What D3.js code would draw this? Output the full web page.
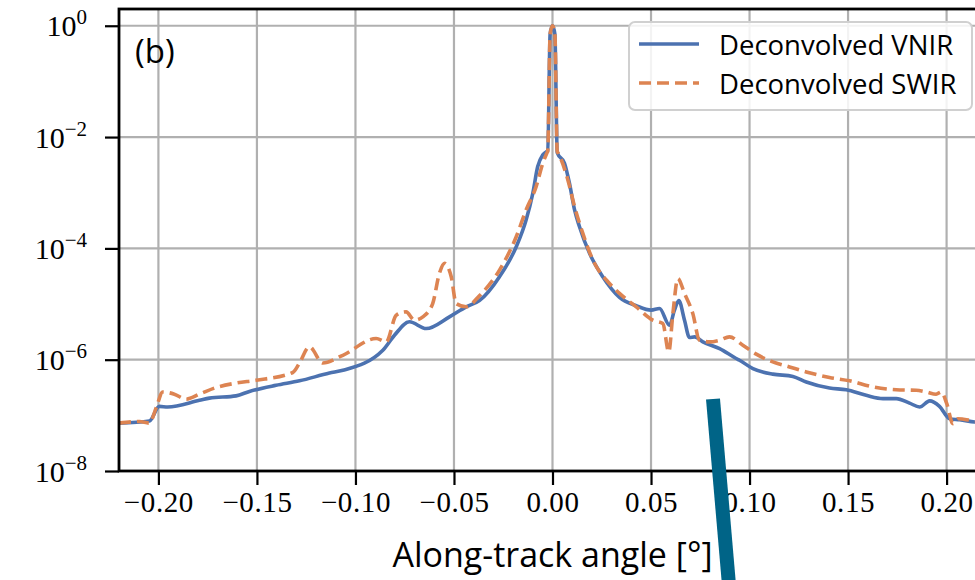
<!DOCTYPE html>
<html>
<head>
<meta charset="utf-8">
<script src="https://cdn.jsdelivr.net/npm/d3@7"></script>
<style>
  html, body { margin: 0; padding: 0; background: #fff; }
  svg { display: block; }
</style>
</head>
<body>
<svg id="chart" width="975" height="580"></svg>
<script>
// ---- data ----
const vnirAngle = [-0.220, -0.2046, -0.1995, -0.1953, -0.1792, -0.1741, -0.1606, -0.1538, -0.1403, -0.1284,
  -0.1132, -0.1064, -0.0861, -0.0802, -0.0726, -0.0641, -0.0523, -0.0438, -0.0371, -0.0269,
  -0.0184, -0.0134, -0.0100, -0.0075, -0.0049, -0.0029, -0.0024, -0.0012, 0, 0.0012,
  0.0024, 0.0061, 0.0086, 0.0112, 0.0137, 0.0188, 0.0255, 0.0340, 0.0425, 0.0501,
  0.0543, 0.0594, 0.0619, 0.0641, 0.0670, 0.0695, 0.0721, 0.0763, 0.0848, 0.0932,
  0.0949, 0.1017, 0.1118, 0.1220, 0.1288, 0.1406, 0.1491, 0.1592, 0.1677, 0.1745,
  0.1812, 0.1863, 0.1914, 0.1964, 0.2015, 0.2066, 0.2142, 0.220];
const vnirValue = [7.24e-8, 7.94e-8, 1.45e-7, 1.41e-7, 1.86e-7, 2.04e-7, 2.24e-7, 2.69e-7, 3.47e-7, 4.17e-7,
  5.75e-7, 6.46e-7, 1.48e-6, 2.75e-6, 4.79e-6, 3.63e-6, 5.89e-6, 8.91e-6, 1.15e-5, 3.09e-5,
  1.07e-4, 3.24e-4, 9.77e-4, 2.95e-3, 4.79e-3, 5.50e-3, 5.62e-3, 0.708, 1.0, 0.708,
  5.25e-3, 3.39e-3, 1.48e-3, 4.90e-4, 2.45e-4, 8.13e-5, 3.09e-5, 1.32e-5, 9.33e-6, 7.76e-6,
  8.32e-6, 4.17e-6, 7.76e-6, 1.15e-5, 5.13e-6, 2.51e-6, 2.57e-6, 2.09e-6, 1.58e-6, 1.05e-6,
  9.77e-7, 6.92e-7, 5.50e-7, 5.01e-7, 3.98e-7, 3.09e-7, 2.88e-7, 2.29e-7, 2.00e-7, 2.00e-7,
  1.66e-7, 1.41e-7, 1.82e-7, 1.45e-7, 8.71e-8, 8.32e-8, 7.59e-8, 7.24e-8];

const swirAngle = [-0.220, -0.2096, -0.2046, -0.2010, -0.1978, -0.1919, -0.1859, -0.1792, -0.1707, -0.1606,
  -0.1504, -0.1318, -0.1284, -0.1234, -0.1166, -0.1064, -0.0895, -0.0844, -0.0793, -0.0743,
  -0.0701, -0.0658, -0.0608, -0.0574, -0.0548, -0.0514, -0.0489, -0.0438, -0.0371, -0.0269,
  -0.0184, -0.0134, -0.0083, -0.0049, -0.0029, -0.0024, -0.0012, 0, 0.0012, 0.0024,
  0.0029, 0.0078, 0.0112, 0.0154, 0.0205, 0.0289, 0.0340, 0.0425, 0.0509, 0.0560,
  0.0590, 0.0611, 0.0636, 0.0670, 0.0712, 0.0746, 0.0797, 0.0848, 0.0898, 0.0966,
  0.1034, 0.1118, 0.1203, 0.1288, 0.1406, 0.1508, 0.1626, 0.1745, 0.1846, 0.1897,
  0.1947, 0.1973, 0.2001, 0.2032, 0.2057, 0.2142, 0.220];
const swirValue = [7.24e-8, 7.76e-8, 7.24e-8, 1.41e-7, 2.63e-7, 2.40e-7, 1.95e-7, 2.40e-7, 3.16e-7, 3.80e-7,
  4.27e-7, 5.89e-7, 8.71e-7, 1.70e-6, 8.71e-7, 1.20e-6, 2.40e-6, 2.09e-6, 6.31e-6, 7.24e-6,
  5.13e-6, 5.89e-6, 1.02e-5, 3.55e-5, 5.37e-5, 3.09e-5, 1.02e-5, 8.91e-6, 1.41e-5, 4.07e-5,
  1.62e-4, 4.90e-4, 1.29e-3, 3.39e-3, 5.13e-3, 5.62e-3, 0.708, 1.0, 0.708, 5.50e-3,
  5.13e-3, 1.70e-3, 5.62e-4, 1.86e-4, 6.17e-5, 2.34e-5, 1.55e-5, 8.91e-6, 5.13e-6, 4.47e-6,
  1.38e-6, 6.76e-6, 2.88e-5, 1.55e-5, 6.76e-6, 2.24e-6, 2.09e-6, 2.24e-6, 2.57e-6, 1.82e-6,
  1.26e-6, 9.12e-7, 7.41e-7, 6.03e-7, 4.79e-7, 4.17e-7, 3.24e-7, 2.88e-7, 2.82e-7, 2.63e-7,
  2.40e-7, 2.63e-7, 1.62e-7, 7.08e-8, 8.71e-8, 7.94e-8, 7.59e-8];

const seriesNames = ["Deconvolved VNIR", "Deconvolved SWIR"];
const xTickValues = [-0.20, -0.15, -0.10, -0.05, 0.00, 0.05, 0.10, 0.15, 0.20];
const xTickLabels = ["\u22120.20", "\u22120.15", "\u22120.10", "\u22120.05", "0.00", "0.05", "0.10", "0.15", "0.20"];
const yTickValues = [1e-8, 1e-6, 1e-4, 1e-2, 1e0];
const yTickExponents = ["\u22128", "\u22126", "\u22124", "\u22122", "0"];
const xLabel = "Along-track angle [\u00B0]";
const panelLabel = "(b)";

// ---- layout ----
const svg = d3.select("#chart");
const L = 119, R = 986, T = 9, B = 471;
const x = d3.scaleLinear().domain([-0.22, 0.22]).range([L, R]);
const y = d3.scaleLog().domain([1e-8, 2]).range([B, T]);

const blue = "#4c72b0", orange = "#dd8452";
const serif = "'Liberation Serif', 'DejaVu Serif', serif";
const sans = "'Open Sans', 'DejaVu Sans', sans-serif";

svg.append("defs").append("clipPath").attr("id", "plotclip")
  .append("rect").attr("x", L).attr("y", T).attr("width", R - L).attr("height", B - T);

// grid
const grid = svg.append("g");
grid.selectAll("line.vx").data(xTickValues).join("line")
  .attr("x1", d => x(d)).attr("x2", d => x(d)).attr("y1", T).attr("y2", B)
  .attr("stroke", "#b0b0b0").attr("stroke-width", 2.2);
grid.selectAll("line.hy").data(yTickValues).join("line")
  .attr("x1", L).attr("x2", R).attr("y1", d => y(d)).attr("y2", d => y(d))
  .attr("stroke", "#b0b0b0").attr("stroke-width", 2.2);

// lines
const line = d3.line().x(d => x(d[0])).y(d => y(d[1])).curve(d3.curveMonotoneX);
const vnir = vnirAngle.map((a, i) => [a, vnirValue[i]]);
const swir = swirAngle.map((a, i) => [a, swirValue[i]]);
const plot = svg.append("g").attr("clip-path", "url(#plotclip)");
plot.append("path").datum(vnir).attr("d", line)
  .attr("fill", "none").attr("stroke", blue).attr("stroke-width", 3.6)
  .attr("stroke-linejoin", "round");
plot.append("path").datum(swir).attr("d", line)
  .attr("fill", "none").attr("stroke", orange).attr("stroke-width", 3.6)
  .attr("stroke-dasharray", "12,6");

// axes
const xAxis = svg.append("g").attr("transform", `translate(0,${B})`)
  .call(d3.axisBottom(x).tickValues(xTickValues).tickSize(14).tickPadding(5)
    .tickFormat((d, i) => xTickLabels[i]));
xAxis.select(".domain").remove();
xAxis.selectAll(".tick line").attr("stroke", "#000").attr("stroke-width", 2.2);
xAxis.selectAll(".tick text").attr("font-family", serif).attr("font-size", 29)
  .attr("fill", "#000").attr("dy", "0.75em").style("letter-spacing", "0.6px");

const yAxis = svg.append("g").attr("transform", `translate(${L},0)`)
  .call(d3.axisLeft(y).tickValues(yTickValues).tickSize(14).tickFormat(() => ""));
yAxis.select(".domain").remove();
yAxis.selectAll(".tick line").attr("stroke", "#000").attr("stroke-width", 2.2);
yAxis.selectAll(".tick").each(function (d, i) {
  const t = d3.select(this).append("text")
    .attr("x", -32).attr("y", 10).attr("text-anchor", "end")
    .attr("font-family", serif).attr("fill", "#000");
  t.append("tspan").attr("font-size", 30).text("10");
  t.append("tspan").attr("font-size", 21).attr("dy", -12).text(yTickExponents[i]);
});

// spines
svg.append("rect").attr("x", L).attr("y", T).attr("width", R - L).attr("height", B - T)
  .attr("fill", "none").attr("stroke", "#000").attr("stroke-width", 2.8);

// axis label
svg.append("text").attr("x", (L + R) / 2).attr("y", 567).attr("text-anchor", "middle")
  .attr("font-family", sans).attr("font-size", 34).attr("fill", "#000").text(xLabel);

// panel label
svg.append("text").attr("x", 135).attr("y", 63)
  .attr("font-family", sans).attr("font-size", 33).attr("fill", "#000").text(panelLabel);

// legend
const lg = svg.append("g");
lg.append("rect").attr("x", 629).attr("y", 22).attr("width", 343).attr("height", 88)
  .attr("rx", 6).attr("fill", "#fff").attr("fill-opacity", 0.85)
  .attr("stroke", "#d0d0d0").attr("stroke-width", 2);
const legendRows = [{ name: seriesNames[0], color: blue, dash: null, y: 44 },
                    { name: seriesNames[1], color: orange, dash: "12,6", y: 83 }];
legendRows.forEach(r => {
  lg.append("line").attr("x1", 639).attr("x2", 699).attr("y1", r.y).attr("y2", r.y)
    .attr("stroke", r.color).attr("stroke-width", 3.6).attr("stroke-dasharray", r.dash);
  lg.append("text").attr("x", 719).attr("y", r.y + 11)
    .attr("font-family", sans).attr("font-size", 27.5).attr("fill", "#000").text(r.name);
});

// overlay stroke
svg.append("line").attr("x1", 713).attr("y1", 399).attr("x2", 729).attr("y2", 585)
  .attr("stroke", "#006487").attr("stroke-width", 14);
</script>
</body>
</html>
